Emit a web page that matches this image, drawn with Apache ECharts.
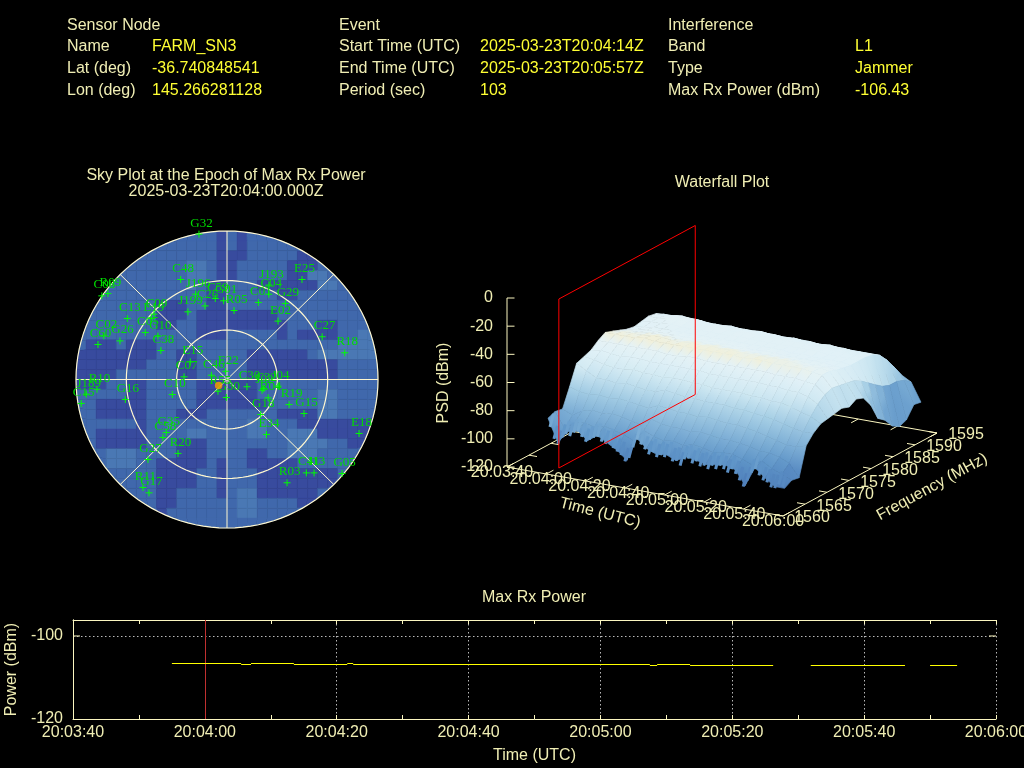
<!DOCTYPE html>
<html><head><meta charset="utf-8">
<style>html,body{margin:0;padding:0;background:#000}#c{width:1024px;height:768px}</style>
<script src="https://cdn.jsdelivr.net/npm/echarts@6/dist/echarts.min.js"></script>
</head><body><div id="c"></div>
<script>
// ---------- data ----------
const sensorLabels = ['Sensor Node','Name','Lat (deg)','Lon (deg)'];
const sensorValues = ['','FARM_SN3','-36.740848541','145.266281128'];
const eventLabels = ['Event','Start Time (UTC)','End Time (UTC)','Period (sec)'];
const eventValues = ['','2025-03-23T20:04:14Z','2025-03-23T20:05:57Z','103'];
const interfLabels = ['Interference','Band','Type','Max Rx Power (dBm)'];
const interfValues = ['','L1','Jammer','-106.43'];

// seconds after 20:03:40: each level holds from rxStart to rxEnd
const rxStart = [15,25.5,27,33.5,41.6,42.5,87.5,88.6,93.6,111.9,130];
const rxEnd   = [25.5,27,33.5,41.6,42.5,87.5,88.6,93.6,106.2,126.2,134.1];
const rxLevel = [-106.63,-106.87,-106.63,-106.87,-106.63,-106.87,-107.11,-106.87,-107.11,-107.11,-107.11];
const epochSec = [20];
const powerTicks = [-100];

// sky plot: [id, east, north] in degrees of zenith angle
const sats = [['G32',-16.7,88.1],['C48',-27.6,60.6],['E25',44.7,60.6],['R09',-71,52.1],['C08',-74.6,50.7],
['J193',25,57.2],['J196',-18.7,51.7],['C59',-7,49.1],['G01',-2,47.7],['C26',-13.1,44.6],['R05',4.2,41.8],
['C01',18.7,46.7],['C04',24.9,51.7],['G29',34.8,46.1],['E02',30.4,35.4],['C27',56.7,25.9],['R18',70.2,16.2],
['C13',-59.4,37],['E19',-45.1,37],['C09',-43.5,39.6],['C05',-48.7,28.5],['G10',-41.2,26.3],['C38',-39.4,17.6],
['J199',-23.3,41],['C02',-73.4,26.5],['G26',-63.8,23.4],['C60',-76.9,21.2],['E15',-21.9,10.7],['C07',-25.6,1.6],
['C46',-9.3,2.6],['E22',-0.8,5],['C30',11.9,-4.4],['C32',21.9,-5.5],['J04',30.4,-4],['J02',20.9,-6.5],['R04',24.5,-11.1],
['G30',-0.4,-10.9],['R55',-5.4,-7.1],['R10',-77.5,-5.9],['J189',-83.9,-8.9],['C15',-86.9,-14.5],['G16',-60.6,-12.1],
['C10',-32.6,-9.1],['R19',37,-15.2],['G15',45.9,-20.6],['G18',20.1,-21.2],['E34',23.5,-33.3],['E18',78.7,-32.7],
['C58',-38.2,-35.2],['G35',-36.2,-32.1],['R20',-29.2,-44.8],['G27',-47.1,-48.5],['R11',-50.1,-65.5],['G17',-46.5,-68.7],
['R03',35.8,-62.6],['C41',47.3,-56.6],['I13',51.9,-56.6],['G05',68.6,-57]];
const jammer = [[-5,-3.6]];
const skyRings = [30,60,90];

// sky mask: rows north to south, 6-degree cells, 0 dark / 1 mid / 2 light
const skyMask = [
'111111111111110101111111111111',
'111111111111110101111111111111',
'111111111111110001111100111111',
'111111111112210011111000121111',
'111111111112210011111002211111',
'111111111112100111000000221111',
'111111111111100111110011111111',
'111111110001100111111111111111',
'111111110001000000001111111111',
'111111110011000000000111001111',
'111111111111000111110100001122',
'100010001111111111111111112222',
'000000001100111110000001222222',
'000000011100111110000000001111',
'000011111100111110000000001111',
'000110011111000000111111111111',
'111110011111000000111111221111',
'110000011111000000011111221111',
'110000011100011111110000221111',
'111111011211111112211100000000',
'110000011112211112211222000000',
'110000011100011111111222211000',
'111222111100011110011222111111',
'111222110000010110000011111111',
'111111110000110111000000001111',
'111111110000110111000000001111',
'111111110011110122000000111111',
'111111110011111122111100011111',
'111111110111111122111111111111',
'111111111111111111111111111111'];
const skyCellColors = ['#384b9e','#4068ac','#4a78b4'];

// waterfall: PSD (dBm) rows by time (seconds after 20:03:40), columns by frequency (MHz)
const wfTimes = [15,20,25,30,35,40,45,50,55,60,65,70,75,80,85,90,95,100,105,110,115,120,125,130,135];
const wfFreqs = [1562.6,1564.2,1565.9,1567.5,1569.1,1570.8,1572.4,1574,1575.6,1577.3,1578.9,1580.5,1582.2,1583.8,1585.4,1587.1,1588.7,1590.3,1592,1593.6];
const wfPsd = [
[-86,-84,-85,-72,-58,-56,-54,-50,-47,-49,-51,-53,-54,-53,-52,-53,-56,-68,-80,-90],
[-102,-95,-88,-74,-62,-57,-53,-50,-47,-48,-50,-52,-53,-52,-52,-53,-56,-66,-78,-88],
[-93,-89,-84,-75,-66,-59,-54,-50,-47,-48,-50,-51,-52,-52,-51,-52,-55,-66,-78,-89],
[-91,-88,-82,-74,-66,-60,-55,-50,-47,-48,-49,-51,-52,-51,-51,-52,-56,-67,-79,-90],
[-97,-90,-83,-75,-67,-60,-54,-50,-46,-47,-49,-51,-52,-52,-51,-52,-56,-68,-80,-90],
[-92,-88,-82,-74,-66,-59,-54,-50,-47,-47,-49,-51,-52,-52,-52,-53,-57,-68,-80,-90],
[-96,-90,-83,-75,-67,-60,-55,-50,-47,-48,-50,-51,-52,-52,-52,-53,-57,-69,-81,-91],
[-100,-92,-85,-76,-68,-60,-55,-51,-47,-48,-50,-51,-52,-52,-51,-53,-56,-68,-80,-90],
[-106,-95,-86,-77,-68,-61,-55,-51,-47,-47,-49,-51,-52,-52,-52,-53,-57,-68,-80,-90],
[-89,-86,-81,-74,-66,-60,-55,-50,-47,-48,-50,-51,-52,-52,-52,-53,-57,-69,-81,-91],
[-95,-89,-83,-75,-67,-60,-55,-50,-47,-47,-49,-51,-52,-51,-51,-53,-56,-68,-80,-90],
[-98,-91,-84,-76,-68,-61,-55,-51,-47,-48,-50,-51,-52,-52,-52,-53,-57,-69,-81,-91],
[-97,-90,-84,-76,-68,-61,-56,-51,-47,-47,-50,-51,-52,-52,-52,-53,-57,-68,-80,-90],
[-100,-92,-85,-77,-69,-62,-56,-51,-47,-48,-50,-52,-52,-52,-52,-54,-57,-69,-81,-90],
[-96,-90,-84,-76,-69,-62,-56,-51,-48,-48,-50,-51,-52,-52,-52,-53,-57,-68,-80,-90],
[-97,-91,-85,-77,-69,-62,-56,-51,-47,-48,-50,-51,-52,-52,-52,-54,-57,-69,-80,-90],
[-99,-93,-86,-78,-70,-62,-56,-51,-47,-48,-50,-52,-53,-52,-52,-54,-58,-69,-80,-90],
[-98,-92,-86,-78,-70,-63,-56,-51,-48,-48,-50,-52,-52,-52,-53,-54,-57,-68,-78,-88],
[-97,-92,-87,-79,-71,-63,-57,-52,-48,-48,-50,-52,-53,-52,-53,-54,-58,-68,-76,-86],
[-99,-94,-88,-80,-72,-64,-57,-52,-48,-49,-51,-52,-53,-53,-53,-54,-58,-66,-74,-84],
[-109,-97,-90,-82,-73,-64,-58,-52,-48,-49,-51,-52,-53,-53,-53,-55,-58,-65,-72,-82],
[-95,-93,-90,-84,-75,-66,-58,-53,-49,-49,-51,-53,-53,-53,-54,-55,-58,-64,-72,-80],
[-101,-97,-92,-86,-77,-68,-60,-54,-50,-50,-52,-53,-54,-54,-54,-55,-58,-64,-72,-80],
[-106,-100,-95,-86,-78,-70,-64,-60,-58,-59,-60,-61,-64,-68,-72,-76,-78,-78,-80,-84],
[-106,-103,-104,-84,-78,-74,-73,-72,-71,-73,-70,-72,-80,-92,-96,-103,-106,-104,-96,-97]];
// jagged PSD along the lowest-frequency edge, read every 2 s from 16 s
const wfEdgeStart = [16];
const wfEdgeStep = [2];
const wfEdgePsd = [-92,-100,-103,-98,-95,-96,-93,-92,-95,-98,-96,-94,-93,-96,-97,-95,-99,-101,-103,-107,-104,-96,-90,-93,-96,-99,-97,-100,-98,-99,-97,-101,-100,-103,-98,-97,-100,-98,-101,-100,-102,-99,-101,-98,-100,-102,-99,-102,-106,-110,-105,-99,-96,-100,-103,-104,-107,-107,-104,-105];
const wfPsdStops = [-110,-95,-85,-72,-62,-53,-49,-47,-45];
const wfColorStops = ['#4a78b6','#5f95c8','#7fb0d6','#a8d0e6','#cfe8f2','#e1f1f7','#e6f2f4','#f0f0dc','#f5f0d8'];

const wfTimeTicks = ['20:03:40','20:04:00','20:04:20','20:04:40','20:05:00','20:05:20','20:05:40','20:06:00'];
const wfFreqTicks = [1560,1565,1570,1575,1580,1585,1590,1595];
const wfPsdTicks = [0,-20,-40,-60,-80,-100,-120];
const wfEpochFreqs = [1562.6,1593.6];

// ---------- style ----------
const PALE='#f0eeb4', YEL='#ffff33', AXIS='#fbf6c0', FONT='"Liberation Sans"', FS=16;
const txtFont=FS+'px '+FONT;

function textEl(text,x,y,align,color,rot){
  return {type:'text',x:x,y:y,rotation:rot||0,silent:true,
    style:{text:text,fill:color||PALE,font:txtFont,align:align||'left',verticalAlign:'middle',textAlign:align||'left',textVerticalAlign:'middle'}};
}
const graphics=[];
const rowY=[25.5,46.5,68.5,90.5];
[[sensorLabels,sensorValues,67,152],[eventLabels,eventValues,339,480],[interfLabels,interfValues,668,855]].forEach(c=>{
  c[0].forEach((t,i)=>{graphics.push(textEl(t,c[2],rowY[i]));
    if(c[1][i])graphics.push(textEl(c[1][i],c[3],rowY[i],'left',YEL));});
});
graphics.push(textEl('Sky Plot at the Epoch of Max Rx Power',226,175.5,'center'));
graphics.push(textEl('2025-03-23T20:04:00.000Z',226,191.5,'center'));
graphics.push(textEl('Waterfall Plot',722,182.5,'center'));
graphics.push(textEl('Max Rx Power',534,597.5,'center'));
graphics.push(textEl('PSD (dBm)',444,383,'center',PALE,Math.PI/2));
graphics.push(textEl('Time (UTC)',600,513,'center',PALE,-0.25));
graphics.push(textEl('Frequency (MHz)',932,487,'center',PALE,0.5));

// ---------- waterfall projection ----------
const SPAN_T=140,SPAN_F=35;
function proj(t,f,z){return [507+276*t/SPAN_T+154*(f-1560)/SPAN_F, 467+49*t/SPAN_T-83*(f-1560)/SPAN_F-169*(z+120)/120];}
function wfColor(z){
  const s=wfPsdStops;
  if(z<=s[0])return wfColorStops[0];
  for(let i=1;i<s.length;i++){ if(z<=s[i]) return echarts.color.lerp((z-s[i-1])/(s[i]-s[i-1]),[wfColorStops[i-1],wfColorStops[i]]); }
  return wfColorStops[wfColorStops.length-1];
}
function line(api,a,b,color,w){const p=api.coord(a),q=api.coord(b);
  return {type:'line',shape:{x1:p[0],y1:p[1],x2:q[0],y2:q[1]},style:{stroke:color,lineWidth:w||1},silent:true};}
function label(api,pt,text,align){const p=api.coord(pt);
  return {type:'text',x:p[0],y:p[1],silent:true,style:{text:text,fill:PALE,font:txtFont,align:align||'center',verticalAlign:'middle'}};}

function renderFrame(params,api){
  const ch=[];
  const A=proj(0,1560,-120),B=proj(140,1560,-120),C=proj(140,1595,-120),D=proj(0,1595,-120);
  ch.push(line(api,A,B,AXIS),line(api,B,C,AXIS),line(api,C,D,AXIS),line(api,D,A,AXIS));
  ch.push(line(api,A,proj(0,1560,0),AXIS));
  wfTimeTicks.forEach((s,i)=>{const t=i*20,p=proj(t,1560,-120),q=proj(t,1595,-120);
    ch.push(line(api,p,[p[0]+7,p[1]-3.8],AXIS),line(api,q,[q[0]-7,q[1]+3.8],AXIS));});
  wfFreqTicks.forEach(f=>{const p=proj(140,f,-120),q=proj(0,f,-120);
    ch.push(line(api,p,[p[0]-8,p[1]-1.4],AXIS),line(api,q,[q[0]+8,q[1]+1.4],AXIS));});
  wfPsdTicks.forEach(z=>{const p=proj(0,1560,z);
    ch.push(line(api,p,[p[0]+7.5,p[1]],AXIS));
    ch.push(label(api,[p[0]-14,p[1]],String(z),'right'));});
  wfTimeTicks.forEach((s,i)=>{const p=proj(i*20,1560,-120);ch.push(label(api,[p[0]-5-i*0.7,p[1]+5.5],s));});
  wfFreqTicks.forEach(f=>{const p=proj(140,f,-120);ch.push(label(api,[p[0]+29,p[1]+2],String(f)));});
  return {type:'group',children:ch};
}
const wfCells=[];
for(let i=0;i<wfTimes.length-1;i++)for(let j=wfFreqs.length-2;j>=0;j--)wfCells.push([i,j]);
function renderCell(params,api){
  const i=api.value(0),j=api.value(1);
  const z0=wfPsd[i][j],z1=wfPsd[i][j+1],z2=wfPsd[i+1][j+1],z3=wfPsd[i+1][j];
  const pts=[proj(wfTimes[i],wfFreqs[j],z0),proj(wfTimes[i],wfFreqs[j+1],z1),proj(wfTimes[i+1],wfFreqs[j+1],z2),proj(wfTimes[i+1],wfFreqs[j],z3)].map(p=>api.coord(p));
  const lo=[(pts[0][0]+pts[3][0])/2,(pts[0][1]+pts[3][1])/2],hi=[(pts[1][0]+pts[2][0])/2,(pts[1][1]+pts[2][1])/2];
  const grad=new echarts.graphic.LinearGradient(lo[0],lo[1],hi[0],hi[1],[{offset:0,color:wfColor((z0+z3)/2)},{offset:1,color:wfColor((z1+z2)/2)}],true);
  return {type:'polygon',shape:{points:pts},style:{fill:grad,stroke:grad,lineWidth:0.7},silent:true};
}
function renderEdge(params,api){
  const z=api.value(1),t=api.value(0),f=wfFreqs[0];
  return line(api,proj(t,f,z),proj(t,f+0.8,z+8),wfColor(z+4),3);
}
function renderEpoch(params,api){
  const t=epochSec[0]+0.5,f0=wfEpochFreqs[0],f1=wfEpochFreqs[1];
  const a=proj(t,f0,-120),b=proj(t,f0,0),c=proj(t,f1,0),d=proj(t,f1,-120);
  return {type:'group',children:[line(api,a,b,'#ff0000'),line(api,b,c,'#ff0000'),line(api,c,d,'#ff0000'),line(api,d,a,'#ff0000')]};
}
function renderPowerTicks(params,api){
  const v=api.value(0),l=api.coord([0,v]),r=api.coord([140,v]);
  return {type:'group',children:[
    {type:'line',shape:{x1:l[0],y1:l[1],x2:l[0]+7,y2:l[1]},style:{stroke:AXIS,lineWidth:1},silent:true},
    {type:'line',shape:{x1:r[0]-7,y1:r[1],x2:r[0],y2:r[1]},style:{stroke:AXIS,lineWidth:1},silent:true}]};
}
function renderRx(params,api){
  const a=api.coord([api.value(0),api.value(2)]),b=api.coord([api.value(1),api.value(2)]);
  const y=Math.floor(a[1])+0.5;
  return {type:'line',shape:{x1:a[0],y1:y,x2:b[0],y2:y},style:{stroke:'#ffff00',lineWidth:1},silent:true};
}
function renderEpochLine(params,api){
  const a=api.coord([api.value(0),-120]),b=api.coord([api.value(0),YMAX]);
  const x=Math.round(a[0])+0.5;
  return {type:'line',shape:{x1:x,y1:a[1],x2:x,y2:b[1]},style:{stroke:'#c03030',lineWidth:1},silent:true};
}

// ---------- sky ----------
const skyCells=[];
skyMask.forEach((row,r)=>{for(let c=0;c<30;c++)skyCells.push([-90+6*c,90-6*r,+row[c]]);});
function clampR(e,n){const r=Math.hypot(e,n);return r>90?[e*90/r,n*90/r]:[e,n];}
function renderSkyCell(params,api){
  const e=api.value(0),n=api.value(1),v=api.value(2);
  const corners=[[e,n],[e+6,n],[e+6,n-6],[e,n-6]];
  if(corners.every(p=>Math.hypot(p[0],p[1])>=90)&&Math.hypot(e+3,n-3)>=90)return null;
  const pts=corners.map(p=>api.coord(clampR(p[0],p[1])));
  const col=skyCellColors[v];
  return {type:'polygon',shape:{points:pts},style:{fill:col,stroke:col,lineWidth:0.5},silent:true};
}
function renderSkyGrid(params,api){
  const ch=[],col='#fff8d0';
  skyRings.forEach(r=>{const pts=[];for(let a=0;a<=360;a+=3){pts.push(api.coord([r*Math.cos(a*Math.PI/180),r*Math.sin(a*Math.PI/180)]));}
    ch.push({type:'polyline',shape:{points:pts},style:{stroke:col,fill:'none',lineWidth:1.2},silent:true});});
  [0,45,90,135].forEach(a=>{const c=Math.cos(a*Math.PI/180)*90,s=Math.sin(a*Math.PI/180)*90;
    ch.push(line(api,[-c,-s],[c,s],col,1));});
  return {type:'group',children:ch};
}
function renderSat(params,api){
  const p=api.coord([api.value(1),api.value(2)]),g='#00ff00',h=3.5;
  return {type:'group',children:[
    {type:'line',shape:{x1:p[0]-h,y1:p[1],x2:p[0]+h,y2:p[1]},style:{stroke:g,lineWidth:1},silent:true},
    {type:'line',shape:{x1:p[0],y1:p[1]-h,x2:p[0],y2:p[1]+h},style:{stroke:g,lineWidth:1},silent:true},
    {type:'text',x:p[0]+2.5,y:p[1]-11,silent:true,style:{text:sats[params.dataIndex][0],fill:'#00dd00',font:'13px "Liberation Serif"',align:'center',verticalAlign:'middle'}}
  ]};
}

// ---------- option ----------
const fmtT=v=>{const s=20*3600+3*60+40+v;const h=Math.floor(s/3600),m=Math.floor(s/60)%60,x=s%60;return [h,m,x].map(n=>String(n).padStart(2,'0')).join(':');};
const YMAX=-96.15;
const hidden=(g,min,max,inv)=>({type:'value',gridIndex:g,min:min,max:max,inverse:!!inv,show:false});
const DOT={color:'#b8b8b8',type:[1.5,2.5],width:1};
const option={
  animation:false,backgroundColor:'#000',
  graphic:{elements:graphics},
  grid:[{left:73,top:620,width:923,height:99,outerBoundsMode:'none'},
        {left:76,top:231,width:302,height:297,outerBoundsMode:'none'},
        {left:0,top:0,width:1024,height:768,outerBoundsMode:'none'}],
  xAxis:[
   {type:'value',gridIndex:0,min:0,max:140,interval:20,position:'bottom',
    name:'Time (UTC)',nameLocation:'middle',nameGap:29,nameTextStyle:{color:PALE,fontFamily:FONT,fontSize:FS},
    axisLine:{show:true,lineStyle:{color:AXIS,width:1}},
    axisTick:{show:true,inside:true,length:4,lineStyle:{color:AXIS}},
    minorTick:{show:true,splitNumber:2,length:4,lineStyle:{color:AXIS}},
    axisLabel:{color:PALE,fontFamily:FONT,fontSize:FS,margin:6,formatter:fmtT,showMinLabel:true,showMaxLabel:true,hideOverlap:false},
    splitLine:{show:true,lineStyle:DOT}},
   {type:'value',gridIndex:0,min:0,max:140,interval:20,position:'top',
    axisLine:{show:true,lineStyle:{color:AXIS,width:1}},
    axisTick:{show:true,inside:true,length:4,lineStyle:{color:AXIS}},
    minorTick:{show:true,splitNumber:2,length:4,lineStyle:{color:AXIS}},
    axisLabel:{show:false},splitLine:{show:false}},
   hidden(1,-90,90),hidden(2,0,1024)],
  yAxis:[
   {type:'value',gridIndex:0,min:-120,max:YMAX,interval:20,position:'left',
    name:'Power (dBm)',nameLocation:'middle',nameGap:49,nameRotate:90,nameTextStyle:{color:PALE,fontFamily:FONT,fontSize:FS},
    axisLine:{show:true,lineStyle:{color:AXIS,width:1}},
    axisTick:{show:false},
    axisLabel:{color:PALE,fontFamily:FONT,fontSize:FS,margin:10,showMaxLabel:false,showMinLabel:true},
    splitLine:{show:true,lineStyle:DOT}},
   {type:'value',gridIndex:0,min:-120,max:YMAX,interval:20,position:'right',
    axisLine:{show:true,lineStyle:{color:AXIS,width:1}},
    axisTick:{show:false},
    axisLabel:{show:false},splitLine:{show:false}},
   hidden(1,-90,90),hidden(2,0,768,true)],
  series:[
   {type:'custom',xAxisIndex:0,yAxisIndex:0,data:rxStart.map((s,i)=>[s,rxEnd[i],rxLevel[i]]),encode:{x:[0,1],y:2},renderItem:renderRx,z:4,silent:true,clip:false},
   {type:'custom',xAxisIndex:0,yAxisIndex:0,data:epochSec.map(v=>[v]),renderItem:renderEpochLine,z:3,silent:true,clip:false},
   {type:'custom',xAxisIndex:0,yAxisIndex:0,data:powerTicks.map(v=>[v]),renderItem:renderPowerTicks,z:3,silent:true,clip:false},
   {type:'custom',xAxisIndex:2,yAxisIndex:2,data:skyCells,renderItem:renderSkyCell,z:1,silent:true,clip:false},
   {type:'custom',xAxisIndex:2,yAxisIndex:2,data:[[0,0]],renderItem:renderSkyGrid,z:2,silent:true,clip:false},
   {type:'custom',xAxisIndex:2,yAxisIndex:2,data:sats.map(s=>[s[0],s[1],s[2]]),dimensions:['id','e','n'],renderItem:renderSat,z:3,silent:true,clip:false},
   {type:'scatter',xAxisIndex:2,yAxisIndex:2,data:jammer,symbol:'circle',symbolSize:7.5,itemStyle:{color:'#ff9900'},z:5,silent:true},
   {type:'custom',xAxisIndex:3,yAxisIndex:3,data:[[0,0]],renderItem:renderFrame,z:1,silent:true,clip:false},
   {type:'custom',xAxisIndex:3,yAxisIndex:3,data:wfCells,renderItem:renderCell,z:2,silent:true,clip:false,progressive:0},
   {type:'custom',xAxisIndex:3,yAxisIndex:3,data:wfEdgePsd.map((z,i)=>[wfEdgeStart[0]+i*wfEdgeStep[0],z]),renderItem:renderEdge,z:3,silent:true,clip:false},
   {type:'custom',xAxisIndex:3,yAxisIndex:3,data:[[0,0]],renderItem:renderEpoch,z:4,silent:true,clip:false}
  ]
};
const chart=echarts.init(document.getElementById('c'),null,{renderer:'canvas',width:1024,height:768});
chart.setOption(option);
</script></body></html>
